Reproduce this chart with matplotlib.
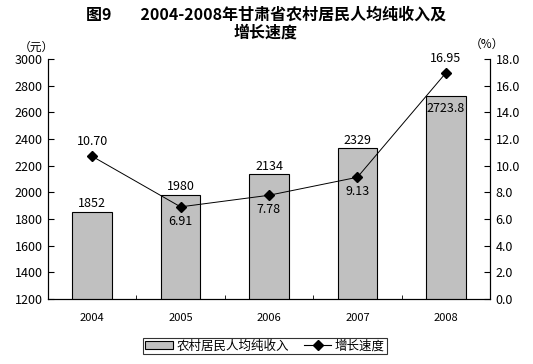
import matplotlib.pyplot as plt
from matplotlib.lines import Line2D
from matplotlib.patches import Patch

plt.rcParams['font.family'] = ['Noto Sans CJK SC', 'DejaVu Sans']

years = ['2004', '2005', '2006', '2007', '2008']
income = [1852, 1980, 2134, 2329, 2723.8]
income_labels = ['1852', '1980', '2134', '2329', '2723.8']
income_inside = [False, False, False, False, True]
growth = [10.70, 6.91, 7.78, 9.13, 16.95]
growth_labels = ['10.70', '6.91', '7.78', '9.13', '16.95']
growth_above = [True, False, False, False, True]

fig = plt.figure(figsize=(5.33, 3.64), dpi=100)
ax = fig.add_axes([48 / 533, 1 - 299 / 364, 442 / 533, 240 / 364])
ax2 = ax.twinx()

x = list(range(len(years)))
ax.bar(x, income, width=0.45, bottom=0, color='#c0c0c0', edgecolor='black', linewidth=0.8, zorder=2)
ax.set_ylim(1200, 3000)
ax.set_xlim(-0.5, len(years) - 0.5)
ax.set_yticks(range(1200, 3001, 200))
ax.set_xticks(x)
ax.set_xticklabels(years)
ax.set_xticks([i + 0.5 for i in x[:-1]], minor=True)
ax.tick_params(axis='x', which='major', length=0, pad=10, labelsize=8)
ax.tick_params(axis='x', which='minor', length=3, direction='in')
ax.tick_params(axis='y', direction='in', length=4, labelsize=9, pad=4)
for i, v in enumerate(income):
    if income_inside[i]:
        ax.text(i, v - 45, income_labels[i], ha='center', va='top', fontsize=9, zorder=4)
    else:
        ax.text(i, v + 12, income_labels[i], ha='center', va='bottom', fontsize=9)

ax2.plot(x, growth, color='black', linewidth=0.7, marker='D', markersize=5, zorder=3)
ax2.set_ylim(0, 18)
ax2.set_yticks(range(0, 19, 2))
ax2.set_yticklabels([f'{v:.1f}' for v in range(0, 19, 2)])
ax2.tick_params(axis='y', direction='in', length=4, labelsize=9, pad=4)
for i, v in enumerate(growth):
    if growth_above[i]:
        ax2.text(i, v + 0.6, growth_labels[i], ha='center', va='bottom', fontsize=9)
    else:
        ax2.text(i, v - 0.6, growth_labels[i], ha='center', va='top', fontsize=9)

for a in (ax, ax2):
    a.spines['top'].set_visible(False)
    for s in a.spines.values():
        s.set_linewidth(0.8)

fig.text(266 / 533, 1 - 15 / 364, '图9        2004-2008年甘肃省农村居民人均纯收入及',
         ha='center', va='center', fontsize=11.5, fontweight='bold')
fig.text(266 / 533, 1 - 33 / 364, '增长速度', ha='center', va='center', fontsize=11.5, fontweight='bold')
fig.text(36 / 533, 1 - 47 / 364, '（元）', ha='center', va='center', fontsize=8.5)
fig.text(487 / 533, 1 - 44 / 364, '（%）', ha='center', va='center', fontsize=8.5)

handles = [Patch(facecolor='#c0c0c0', edgecolor='black', linewidth=0.8),
           Line2D([], [], color='black', linewidth=0.8, marker='D', markersize=5)]
leg = fig.legend(handles, ['农村居民人均纯收入', '增长速度'], loc='center',
                 bbox_to_anchor=(265 / 533, 1 - 346 / 364), ncol=2, fontsize=9,
                 frameon=True, fancybox=False, edgecolor='black', borderpad=0.15,
                 handlelength=2.2, handleheight=0.6, columnspacing=1.2, handletextpad=0.3)
leg.get_frame().set_linewidth(0.8)

fig.savefig('out.png', dpi=100)
